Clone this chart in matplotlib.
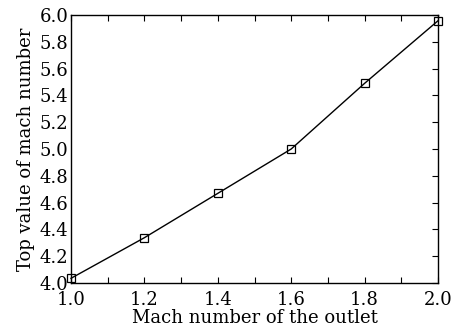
import matplotlib
matplotlib.use("Agg")
import matplotlib.pyplot as plt
from matplotlib.ticker import MultipleLocator

# ── Datos ─────────────────────────────────────────────────
mach_salida = [1.0, 1.2, 1.4, 1.6, 1.8, 2.0]
mach_max    = [4.035, 4.338, 4.669, 5.0, 5.49, 5.957]

plt.rcParams['font.family'] = ['DejaVu Serif']

fig = plt.figure(figsize=(4.58, 3.31), dpi=100)
ax = fig.add_axes([71/458, 48/331, (438-71)/458, (283-15)/331])

ax.plot(mach_salida, mach_max, color='black', linewidth=1.0,
        marker='s', markersize=6, markerfacecolor='none',
        markeredgecolor='black', markeredgewidth=0.9, clip_on=False)

ax.set_xlim(1.0, 2.0)
ax.set_ylim(4.0, 6.0)
ax.xaxis.set_major_locator(MultipleLocator(0.2))
ax.xaxis.set_minor_locator(MultipleLocator(0.1))
ax.yaxis.set_major_locator(MultipleLocator(0.2))
ax.set_xticklabels([f"{v:.1f}" for v in ax.get_xticks()])
ax.set_yticklabels([f"{v:.1f}" for v in ax.get_yticks()])

ax.tick_params(which='both', direction='in', top=True, right=True,
               labelsize=13, pad=3)
ax.tick_params(which='major', length=4, width=0.8)
ax.tick_params(which='minor', length=4, width=0.8)
ax.tick_params(axis='y', which='major', left=False, pad=2)
ax.tick_params(axis='x', pad=6)
for s in ax.spines.values():
    s.set_linewidth(1.0)

ax.set_xlabel('Mach number of the outlet', fontsize=13, labelpad=0)
ax.set_ylabel('Top value of mach number', fontsize=13, labelpad=3)

fig.savefig('out.png', dpi=100)
